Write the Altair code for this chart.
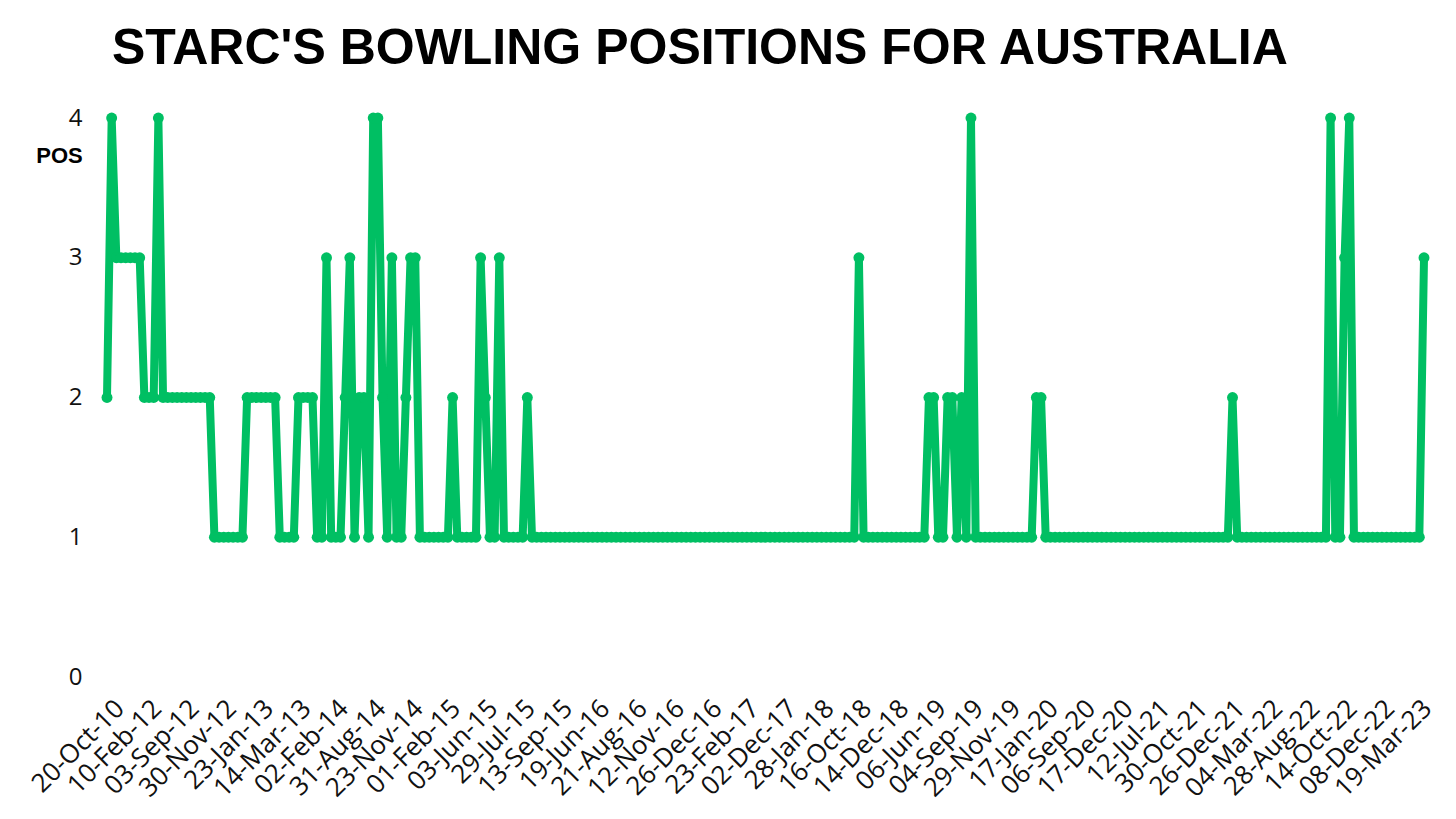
import altair as alt
import pandas as pd

# Bowling position in each innings (left to right)
position = [
    2, 4, 3, 3, 3, 3, 3, 3, 2, 2,
    2, 4, 2, 2, 2, 2, 2, 2, 2, 2,
    2, 2, 2, 1, 1, 1, 1, 1, 1, 1,
    2, 2, 2, 2, 2, 2, 2, 1, 1, 1,
    1, 2, 2, 2, 2, 1, 1, 3, 1, 1,
    1, 2, 3, 1, 2, 2, 1, 4, 4, 2,
    1, 3, 1, 1, 2, 3, 3, 1, 1, 1,
    1, 1, 1, 1, 2, 1, 1, 1, 1, 1,
    3, 2, 1, 1, 3, 1, 1, 1, 1, 1,
    2, 1, 1, 1, 1, 1, 1, 1, 1, 1,
    1, 1, 1, 1, 1, 1, 1, 1, 1, 1,
    1, 1, 1, 1, 1, 1, 1, 1, 1, 1,
    1, 1, 1, 1, 1, 1, 1, 1, 1, 1,
    1, 1, 1, 1, 1, 1, 1, 1, 1, 1,
    1, 1, 1, 1, 1, 1, 1, 1, 1, 1,
    1, 1, 1, 1, 1, 1, 1, 1, 1, 1,
    1, 3, 1, 1, 1, 1, 1, 1, 1, 1,
    1, 1, 1, 1, 1, 1, 2, 2, 1, 1,
    2, 2, 1, 2, 1, 4, 1, 1, 1, 1,
    1, 1, 1, 1, 1, 1, 1, 1, 1, 2,
    2, 1, 1, 1, 1, 1, 1, 1, 1, 1,
    1, 1, 1, 1, 1, 1, 1, 1, 1, 1,
    1, 1, 1, 1, 1, 1, 1, 1, 1, 1,
    1, 1, 1, 1, 1, 1, 1, 1, 1, 1,
    1, 2, 1, 1, 1, 1, 1, 1, 1, 1,
    1, 1, 1, 1, 1, 1, 1, 1, 1, 1,
    1, 1, 4, 1, 1, 3, 4, 1, 1, 1,
    1, 1, 1, 1, 1, 1, 1, 1, 1, 1,
    1, 1, 3,
]

# Innings positions that carry a date label, and the labels themselves
tick_index = [2, 10, 18, 26, 34, 42, 50, 58, 66, 74, 82, 90, 98, 106, 114, 122,
              130, 138, 146, 154, 162, 170, 178, 186, 194, 202, 210, 218, 226,
              234, 242, 250, 258, 266, 274, 282]
tick_label = ["20-Oct-10", "10-Feb-12", "03-Sep-12", "30-Nov-12", "23-Jan-13",
              "14-Mar-13", "02-Feb-14", "31-Aug-14", "23-Nov-14", "01-Feb-15",
              "03-Jun-15", "29-Jul-15", "13-Sep-15", "19-Jun-16", "21-Aug-16",
              "12-Nov-16", "26-Dec-16", "23-Feb-17", "02-Dec-17", "28-Jan-18",
              "16-Oct-18", "14-Dec-18", "06-Jun-19", "04-Sep-19", "29-Nov-19",
              "17-Jan-20", "06-Sep-20", "17-Dec-20", "12-Jul-21", "30-Oct-21",
              "26-Dec-21", "04-Mar-22", "28-Aug-22", "14-Oct-22", "08-Dec-22",
              "19-Mar-23"]
y_ticks = [0, 1, 2, 3, 4]

df = pd.DataFrame({"inn": list(range(len(position))), "pos": position})

label_expr = ("[" + ",".join("'%s'" % t for t in tick_label) + "][indexof(["
              + ",".join(str(i) for i in tick_index) + "], datum.value)]")

GREEN = "#00BF63"
LABEL_FONT = "Open Sans"
HEAVY_FONT = "Liberation Sans"

base = alt.Chart(df).encode(
    x=alt.X(
        "inn:Q",
        scale=alt.Scale(domain=[0, len(position) - 1], nice=False, zero=False),
        axis=alt.Axis(
            values=tick_index, labelExpr=label_expr, labelAngle=-45,
            labelAlign="right", labelBaseline="top", labelFont=LABEL_FONT,
            labelFontSize=26, labelColor="#111111", labelPadding=18,
            labelOffset=-6,
            ticks=False, domain=False, grid=False, title=None,
            labelOverlap=False, labelFlush=False, labelBound=False,
        ),
    ),
    y=alt.Y(
        "pos:Q",
        scale=alt.Scale(domain=[0, 4], nice=False, zero=True),
        axis=alt.Axis(
            values=y_ticks, format="d", labelFont=LABEL_FONT, labelFontSize=24,
            labelColor="#111111", labelPadding=25, ticks=False, domain=False,
            grid=False, labelFlush=False, labelOverlap=False,
            title="POS", titleAngle=0, titleX=-48, titleY=37,
            titleAlign="center", titleBaseline="middle", titleFont=HEAVY_FONT,
            titleFontSize=22, titleFontWeight="bold", titleColor="#000000",
        ),
    ),
)

line = base.mark_line(color=GREEN, strokeWidth=8, strokeJoin="round",
                      strokeCap="round")
pts = base.mark_circle(color=GREEN, size=120, opacity=1)

chart = (line + pts).properties(
    width=1317,
    height=559,
    title=alt.TitleParams(
        text="STARC'S BOWLING POSITIONS FOR AUSTRALIA",
        font=HEAVY_FONT, fontSize=50, fontWeight="bold", color="#000000",
        anchor="start", frame="group", dx=5, offset=36, dy=44,
        baseline="alphabetic",
    ),
    autosize=alt.AutoSizeParams(type="none"),
    padding={"left": 99, "top": 110, "right": 20, "bottom": 130},
    background="#ffffff",
).configure_view(stroke=None)

chart.save("out.html", embed_options={"renderer": "svg", "actions": False})
